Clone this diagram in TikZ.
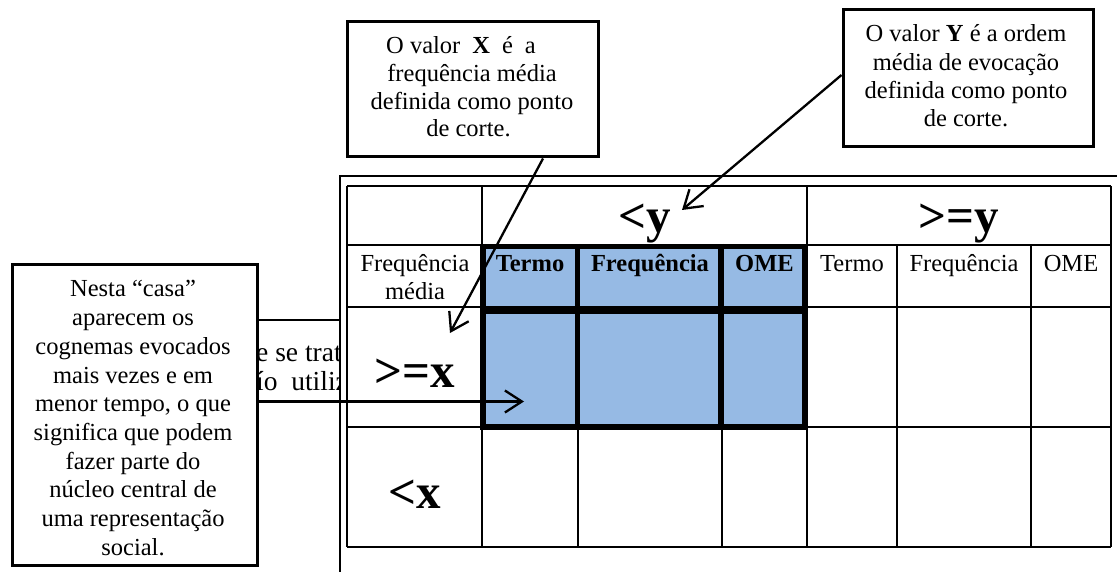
\documentclass[tikz,border=0pt]{standalone}
\usepackage{fontspec}
\setmainfont{Liberation Serif}
\usetikzlibrary{arrows.meta}
\definecolor{cellblue}{RGB}{150,186,228}
\begin{document}
\begin{tikzpicture}[x=1pt,y=-1pt,
  gridline/.style={line width=2pt},
  boldline/.style={line width=5.5pt},
  callout/.style={draw, line width=3pt, fill=white, inner sep=0pt},
  txt/.style={font=\fontsize{24.5}{28.4}\selectfont, inner sep=0pt, anchor=base},
  bigtxt/.style={font=\fontsize{49}{56}\selectfont\bfseries, inner sep=0pt, anchor=base},
  bgtxt/.style={font=\fontsize{27.5}{32}\selectfont, inner sep=0pt, anchor=base west},
  pointer/.style={line width=2.3pt, -{Straight Barb[length=17pt,width=22pt]}}]
\useasboundingbox (0,0) rectangle (1117,572);
\fill[white] (0,0) rectangle (1117,572);

% partly hidden background text
\begin{scope}
  \clip (256,300) rectangle (340,420);
  \node[bgtxt] (bg1) at (256,361) {e se trata};
  \node[bgtxt] (bg2) at (256,390) {ío~~utiliza};
\end{scope}
\draw[gridline] (256,320) -- (340,320);

% outer frame
\draw[gridline] (1117,176.5) -- (340,176.5) -- (340,572);

% table
\fill[cellblue] (482,245) rectangle (807,427);
\foreach \y in {186,245,307,427,547} \draw[gridline] (347,\y) -- (1111,\y);
\foreach \x in {347,482,807,1111} \draw[gridline] (\x,186) -- (\x,547);
\foreach \x in {578,722,897,1031} \draw[gridline] (\x,245) -- (\x,547);
\foreach \x in {483,577.5,721,805} \draw[boldline] (\x,244) -- (\x,429.75);
\foreach \y in {246.5,311,427} \draw[boldline] (480.25,\y) -- (807.75,\y);

% table text
\node[bigtxt] (ly) at (644.5,233) {<y};
\node[bigtxt] (gy) at (959,233) {>=y};
\node[txt] (fm1) at (415,272) {Frequência};
\node[txt] (fm2) at (415,300) {média};
\node[txt, font=\fontsize{24.5}{28.4}\selectfont\bfseries] (bt) at (530,272) {Termo};
\node[txt, font=\fontsize{24.5}{28.4}\selectfont\bfseries] (bf) at (650,272) {Frequência};
\node[txt, font=\fontsize{24.5}{28.4}\selectfont\bfseries] (bo) at (764.5,272) {OME};
\node[txt] (nt) at (852,272) {Termo};
\node[txt] (nf) at (964,272) {Frequência};
\node[txt] (no) at (1071,272) {OME};
\node[bigtxt] (gx) at (415,387) {>=x};
\node[bigtxt] (lx) at (415,508) {<x};

% callout X
\node[callout, minimum width=251pt, minimum height=135pt] (xbox) at (472.5,89.5) {};
\node[txt] (xl1) at (461,54) {O valor\hspace{12pt}\textbf{X}\hspace{12pt}é\hspace{12pt}a};
\node[txt] (xl2) at (472,81.7) {frequência média};
\node[txt] (xl3) at (472,109.4) {definida como ponto};
\node[txt] (xl4) at (468.5,137) {de corte.};

% callout Y
\node[callout, minimum width=250pt, minimum height=137pt] (ybox) at (968,78.5) {};
\foreach \t [count=\i] in {{O valor \textbf{Y} é a ordem},{média de evocação},{definida como ponto},{de corte.}}
  \node[txt] (yl\i) at (966,{42+28.3*(\i-1)}) {\t};

% callout Nesta casa
\node[callout, minimum width=245pt, minimum height=300pt] (nbox) at (134.5,415) {};
\foreach \t [count=\i] in {{Nesta “casa”},{aparecem os},{cognemas evocados},{mais vezes e em},{menor tempo, o que},{significa que podem},{fazer parte do},{núcleo central de},{uma representação},{social.}}
  \node[txt] (nl\i) at (133,{297+28.7*(\i-1)}) {\t};

% pointers
\coordinate (xtip) at (450,333);
\coordinate (ytip) at (682,210);
\coordinate (ntip) at (524,401.5);
\draw[pointer] ([xshift=70.5pt]xbox.south) -- (xtip);
\draw[pointer] ([yshift=3.5pt]ybox.west) -- (ytip);
\draw[pointer] ([yshift=13.5pt]nbox.east) -- (ntip);
\end{tikzpicture}
\end{document}
